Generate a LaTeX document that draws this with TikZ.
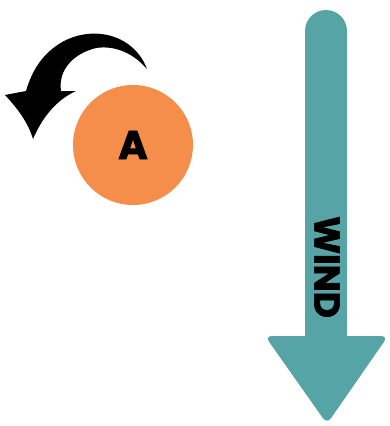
\documentclass[tikz,border=0pt]{standalone}
\usepackage{fontspec}
\setmainfont{Poppins}
\newfontfamily\heavyfont{Poppins}[BoldFeatures={FakeBold=2}]
\usepackage{tikz}
\usetikzlibrary{positioning}

\definecolor{windteal}{HTML}{57A4A6}
\definecolor{ballorange}{HTML}{F68E4B}

\begin{document}
\begin{tikzpicture}[
        x=1pt, y=-1pt,
        ball/.style={circle, fill=ballorange, minimum size=120pt, inner sep=0pt, font=\heavyfont\fontsize{40}{40}\selectfont\bfseries},
        windlabel/.style={rotate=-90, font=\heavyfont\fontsize{36}{36}\selectfont\bfseries, inner sep=0pt}
    ]
        \useasboundingbox (0,0) rectangle (390,426);

        % rotating object
        \node[ball] (a) at (133,145) {A};

        % spin arrow
        \fill[black] (147,69) .. controls (131,26) and (70,20) .. (39,63)
            .. controls (32,73) and (28,84) .. (26,91) -- (5,95)
            .. controls (17,108) and (28,122) .. (33,139)
            .. controls (42,118) and (56,100) .. (76,91) -- (61,91)
            .. controls (58,71) and (72,54) .. (96,48)
            .. controls (116,45) and (134,54) .. (147,69) -- cycle;

        % wind arrow
        \fill[windteal] (305,338) -- (305,31) arc[start angle=180, end angle=360, radius=21] -- (347,338) -- cycle;
        \fill[windteal, rounded corners=7] (300,336) -- (388,336) -- (327,424) -- (265,336) -- cycle;
        \node[windlabel] (wind) at (327,267) {WIND};
    \end{tikzpicture}
\end{document}
